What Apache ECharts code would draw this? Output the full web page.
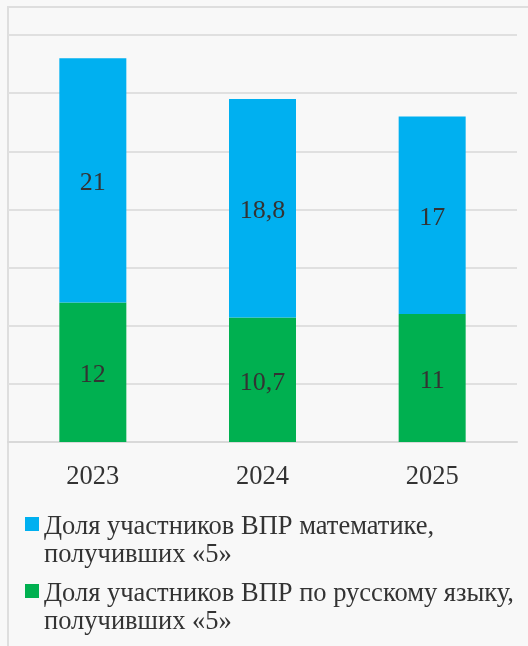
<!DOCTYPE html>
<html>
<head>
<meta charset="utf-8">
<script src="https://cdn.jsdelivr.net/npm/echarts@6/dist/echarts.min.js"></script>
<style>
html,body{margin:0;padding:0;background:#f8f8f8;}
#frame{position:absolute;left:7px;top:6px;width:540px;height:660px;border-left:2px solid #dedede;border-top:2px solid #dedede;}
#c{position:absolute;left:0;top:0;width:528px;height:646px;}
</style>
</head>
<body>
<div id="frame"></div>
<div id="c"></div>
<script>
const categories = ['2023', '2024', '2025'];
const mathName = 'Доля участников ВПР математике,\nполучивших «5»';
const rusName = 'Доля участников ВПР по русскому языку,\nполучивших «5»';
const mathValues = [21, 18.8, 17];
const rusValues = [12, 10.7, 11];
const yMin = 0, yMax = 35, yStep = 5;

const font = 'Liberation Serif';
const chart = echarts.init(document.getElementById('c'));
const labelFmt = p => String(p.value).replace('.', ',');
chart.setOption({
  animation: false,
  backgroundColor: 'transparent',
  grid: {left: 8, right: 11, top: 35, bottom: 204, containLabel: false},
  xAxis: {
    type: 'category', data: categories,
    axisLine: {lineStyle: {color: '#d9d9d9', width: 2}},
    axisTick: {show: false},
    axisLabel: {color: '#333', fontFamily: font, fontSize: 26.5, margin: 22}
  },
  yAxis: {
    type: 'value', min: yMin, max: yMax, interval: yStep,
    axisLabel: {show: false}, axisLine: {show: false}, axisTick: {show: false},
    splitLine: {lineStyle: {color: '#e0e0e0', width: 2}}
  },
  legend: {
    orient: 'vertical', left: 25, top: 479, itemGap: -23, padding: 0,
    itemWidth: 14, itemHeight: 14, icon: 'rect',
    data: [mathName, rusName],
    formatter: name => '{s|}\n{t|' + name + '}',
    textStyle: {
      color: '#333', fontFamily: font, fontSize: 26.5, lineHeight: 28,
      rich: {
        s: {lineHeight: 34, fontSize: 26.5, fontFamily: font},
        t: {lineHeight: 28, fontSize: 26.5, fontFamily: font, color: '#333'}
      }
    },
    itemStyle: {borderWidth: 0}
  },
  series: [
    {name: rusName, type: 'bar', stack: 'a', data: rusValues, barWidth: 67,
     itemStyle: {color: '#00B050'},
     label: {show: true, position: 'inside', offset: [0, 3], color: '#333', fontFamily: font, fontSize: 26, formatter: labelFmt}},
    {name: mathName, type: 'bar', stack: 'a', data: mathValues, barWidth: 67,
     itemStyle: {color: '#00B0F0'},
     label: {show: true, position: 'inside', offset: [0, 3], color: '#333', fontFamily: font, fontSize: 26, formatter: labelFmt}}
  ]
});
</script>
</body>
</html>
